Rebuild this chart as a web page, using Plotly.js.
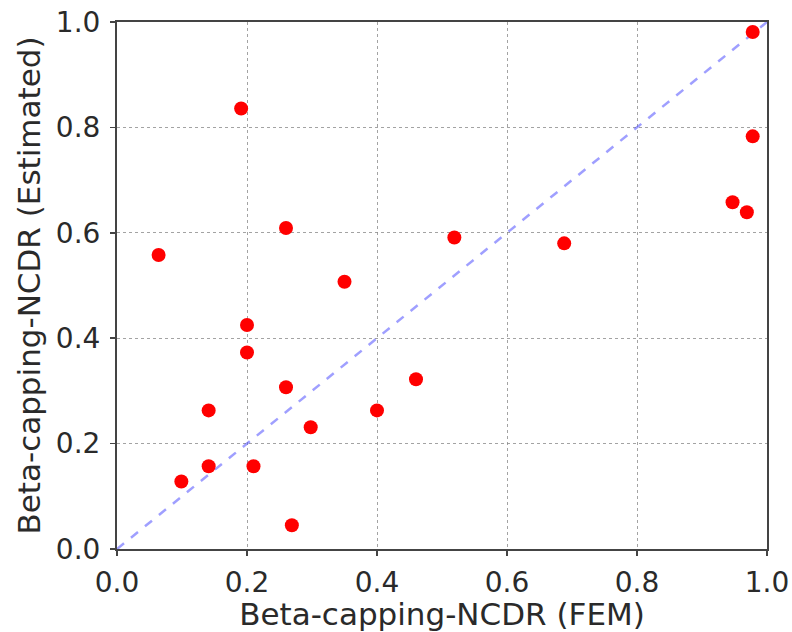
<!DOCTYPE html>
<html>
<head>
<meta charset="utf-8">
<script src="https://cdn.plot.ly/plotly-3.0.1.min.js"></script>
<style>html,body{margin:0;padding:0;background:#fff;}#chart{width:792px;height:632px;}</style>
</head>
<body>
<div id="chart"></div>
<script>
const femValues = [0.191, 0.064, 0.26, 0.35, 0.978, 0.978, 0.947, 0.969, 0.519, 0.688, 0.2, 0.2, 0.26, 0.141, 0.298, 0.40, 0.141, 0.21, 0.099, 0.269, 0.46];
const estValues = [0.836, 0.558, 0.609, 0.507, 0.981, 0.783, 0.658, 0.639, 0.591, 0.58, 0.425, 0.373, 0.307, 0.263, 0.231, 0.263, 0.157, 0.157, 0.128, 0.045, 0.322];
const diagX = [0, 1];
const diagY = [0, 1];
const tickVals = [0, 0.2, 0.4, 0.6, 0.8, 1.0];
const tickText = ['0.0', '0.2', '0.4', '0.6', '0.8', '1.0'];

const font = 'DejaVu Sans, sans-serif';
const axisCommon = {
  range: [0, 1],
  tickvals: tickVals,
  ticktext: tickText,
  showgrid: true,
  gridcolor: 'rgba(140,140,140,0.8)',
  griddash: 'dot',
  gridwidth: 1,
  zeroline: false,
  showline: true,
  mirror: true,
  linecolor: '#444',
  linewidth: 2,
  ticks: 'outside',
  ticklen: 5,
  tickwidth: 1.5,
  tickcolor: '#444',
  tickfont: {family: font, size: 28, color: '#2a2a2a'},
  fixedrange: true
};

const traces = [
  {x: diagX, y: diagY, mode: 'lines', type: 'scatter',
   line: {color: 'rgba(80,80,255,0.55)', width: 2.5, dash: 'dash'}, hoverinfo: 'skip'},
  {x: femValues, y: estValues, mode: 'markers', type: 'scatter',
   marker: {color: '#ff0000', size: 14}, cliponaxis: false}
];

const layout = {
  width: 792, height: 632,
  margin: {l: 117, r: 25, t: 22, b: 83},
  paper_bgcolor: '#fff', plot_bgcolor: '#fff',
  showlegend: false,
  xaxis: Object.assign({}, axisCommon, {ticklabelstandoff: 2, title: {text: 'Beta-capping-NCDR (FEM)', font: {family: font, size: 31, color: '#2a2a2a'}, standoff: 4}}),
  yaxis: Object.assign({}, axisCommon, {ticklabelstandoff: 4, title: {text: 'Beta-capping-NCDR (Estimated)', font: {family: font, size: 31, color: '#2a2a2a'}, standoff: 6}})
};

Plotly.newPlot('chart', traces, layout, {displayModeBar: false, staticPlot: true});
</script>
</body>
</html>
